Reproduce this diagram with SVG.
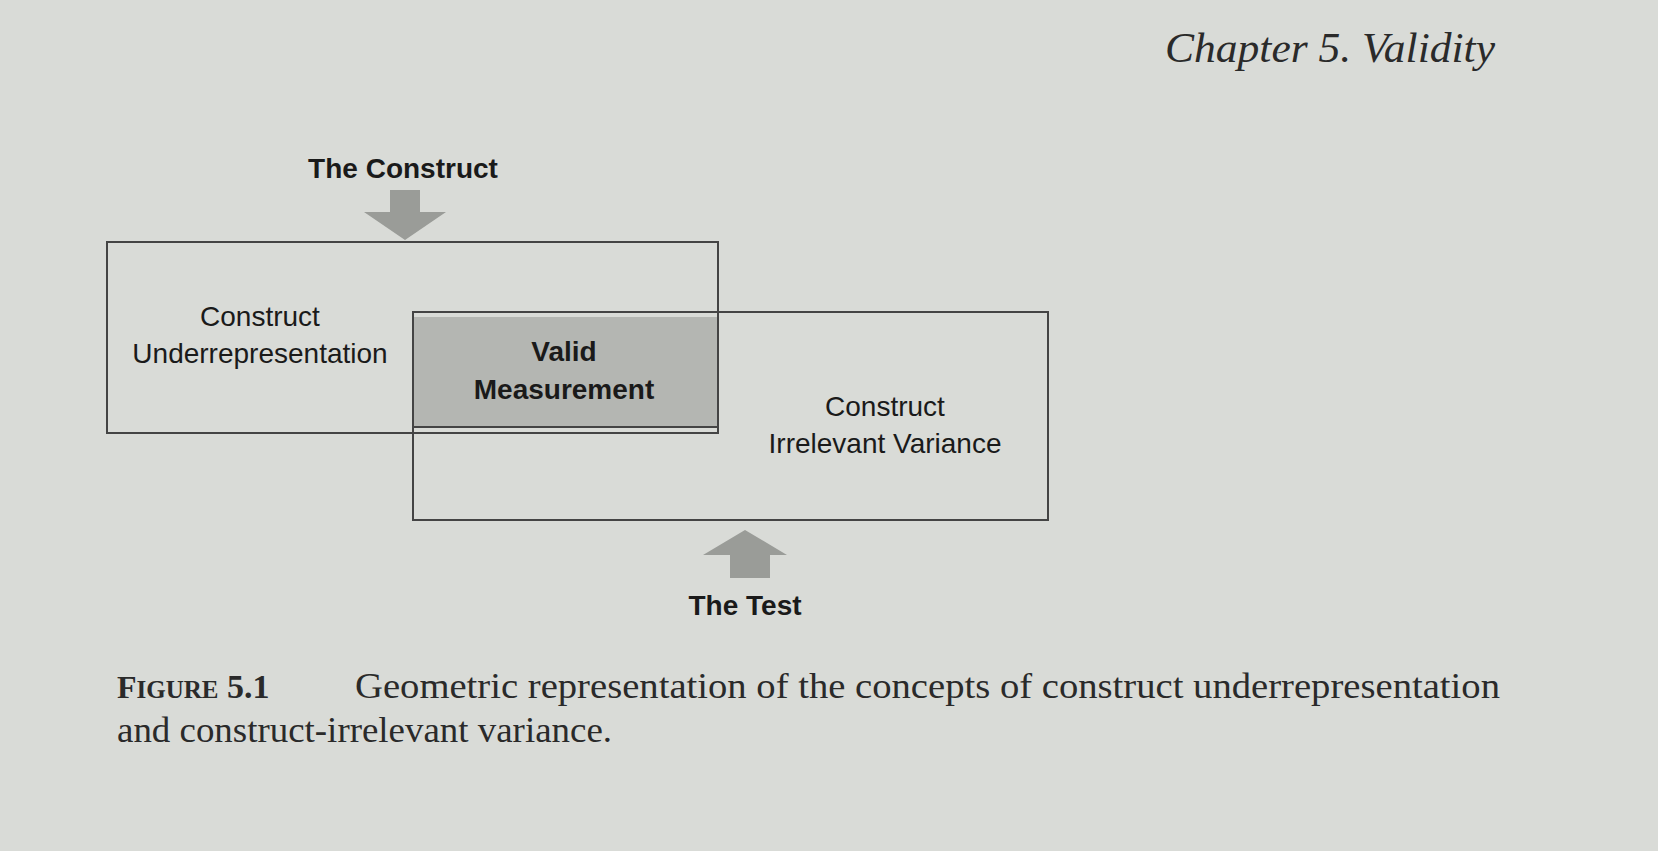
<svg xmlns="http://www.w3.org/2000/svg" width="1658" height="851" viewBox="0 0 1658 851">
<style>
.s{font-family:"Liberation Sans",Arial,sans-serif;font-size:28px;fill:#1a1a1a;text-anchor:middle}
.b{font-weight:bold}
.r{font-family:"Liberation Serif","Times New Roman",serif;fill:#2a2a2a}
.box{fill:none;stroke:#444;stroke-width:2}
.arr{fill:#9a9c98}
</style>
<rect width="1658" height="851" fill="#d9dbd7"/>
<text class="r" x="1165" y="62" font-size="42" font-style="italic" textLength="330" lengthAdjust="spacingAndGlyphs">Chapter 5. Validity</text>
<g id="construct">
<text class="s b" x="403" y="178">The Construct</text>
<polygon class="arr" points="390,190 420,190 420,212 446,212 405,240 364,212 390,212"/>
</g>
<g id="overlap"><rect x="413" y="317" width="305" height="110" fill="#b4b6b2"/></g>
<g id="box-construct">
<rect class="box" x="107" y="242" width="611" height="191"/>
<text class="s" x="260" y="326">Construct</text>
<text class="s" x="260" y="363">Underrepresentation</text>
</g>
<g id="box-test">
<rect class="box" x="413" y="312" width="635" height="208"/>
<line class="box" x1="413" y1="427" x2="718" y2="427"/>
<text class="s" x="885" y="416">Construct</text>
<text class="s" x="885" y="453">Irrelevant Variance</text>
</g>
<g id="valid">
<text class="s b" x="564" y="361">Valid</text>
<text class="s b" x="564" y="399">Measurement</text>
</g>
<g id="test">
<polygon class="arr" points="745,530 787,555 770,555 770,578 730,578 730,555 703,555"/>
<text class="s b" x="745" y="615">The Test</text>
</g>
<g id="caption">
<text class="r" x="117" y="698"><tspan font-weight="bold" font-size="32">F</tspan><tspan font-weight="bold" font-size="25">IGURE</tspan><tspan font-weight="bold" font-size="34"> 5.1</tspan></text>
<text class="r" x="355" y="698" font-size="36" textLength="1145" lengthAdjust="spacingAndGlyphs">Geometric representation of the concepts of construct underrepresentation</text>
<text class="r" x="117" y="742" font-size="35" textLength="495" lengthAdjust="spacingAndGlyphs">and construct-irrelevant variance.</text>
</g>
</svg>
